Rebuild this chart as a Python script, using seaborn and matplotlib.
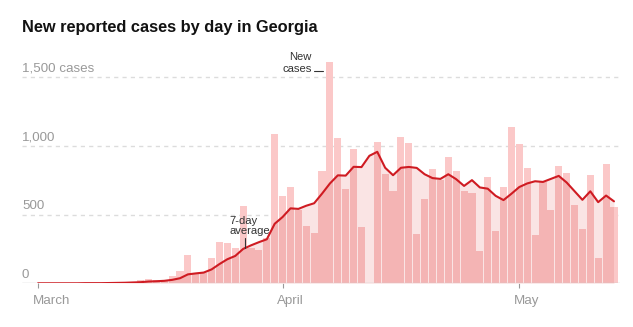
import numpy as np
import pandas as pd
import matplotlib
matplotlib.use("Agg")
import matplotlib.pyplot as plt
import seaborn as sns

# ---------------- data ----------------
dates = pd.date_range("2020-03-01", "2020-05-13", freq="D")

new_cases = [
    # March 1 - 31
    0, 2, 0, 0, 0, 0, 4, 1, 5, 5,
    5, 8, 11, 24, 33, 22, 25, 53, 92, 204,
    72, 78, 184, 300, 295, 257, 563, 255, 242, 330,
    1089,
    # April 1 - 30 (no bar shown on April 12)
    636, 701, 531, 420, 364, 820, 1609, 1053, 686, 978,
    408, None, 1026, 793, 674, 1065, 1021, 359, 611, 832,
    750, 915, 813, 674, 655, 238, 774, 381, 699, 1138,
    # May 1 - 13
    1012, 837, 354, 740, 531, 854, 803, 570, 398, 788,
    184, 868, 558,
]

avg_7day = [
    # March
    0, 0, 0, 0, 0, 0, 1, 1, 1, 2,
    3, 4, 6, 8, 13, 15, 18, 25, 37, 65,
    72, 78, 101, 140, 175, 199, 250, 276, 299, 320,
    433,
    # April
    482, 545, 541, 564, 582, 652, 726, 785, 783, 847,
    845, 927, 956, 840, 786, 840, 846, 839, 793, 765,
    759, 793, 757, 708, 750, 697, 688, 636, 605, 651,
    # May
    700, 726, 742, 737, 759, 781, 733, 670, 607, 669,
    590, 638, 596,
]

y_tick_values = [0, 500, 1000, 1500]
y_tick_labels = ["0", "500", "1,000", "1,500 cases"]
month_starts = ["2020-03-01", "2020-04-01", "2020-05-01"]
month_labels = ["March", "April", "May"]

title = "New reported cases by day in Georgia"

# ---------------- style ----------------
LIGHT = "#fbc8c8"
DARK = "#f4b4b4"
AREA = "#fae4e4"
RED = "#cf1b22"
GRID = "#dcdcdc"
LABEL = "#999999"
TEXT = "#333333"

sns.set_theme(style="white")
plt.rcParams["font.family"] = ["Liberation Sans", "DejaVu Sans"]

W, H = 633, 327
fig = plt.figure(figsize=(W / 100, H / 100), dpi=100)
base_px, top_px, left_px, right_px = 283.3, 50.0, 22.0, 620.0
ax = fig.add_axes([left_px / W, (H - base_px) / H,
                   (right_px - left_px) / W, (base_px - top_px) / H])

df = pd.DataFrame({
    "day": np.arange(len(dates)),
    "date": dates,
    "cases": pd.to_numeric(pd.Series(new_cases), errors="coerce"),
    "avg": avg_7day,
})
bars_df = df.dropna(subset=["cases"])

# dashed gridlines (behind everything)
for v in y_tick_values[1:]:
    ax.axhline(v, linestyle=(0, (3, 3)), color=GRID, linewidth=1, zorder=0.1)

# area under 7-day average
area = ax.fill_between(df["day"], 0, df["avg"], color=AREA, lw=0, zorder=1)

# bars (light, full height)
n0 = len(ax.patches)
sns.barplot(data=bars_df, x="day", y="cases", native_scale=True, color=LIGHT,
            saturation=1, width=0.9, errorbar=None, linewidth=0, ax=ax)
for p in ax.patches[n0:]:
    p.set_zorder(2)
n1 = len(ax.patches)
# bars (dark, portion under the average)
sns.barplot(data=bars_df, x="day", y="cases", native_scale=True, color=DARK,
            saturation=1, width=0.9, errorbar=None, linewidth=0, ax=ax)
clip_path = area.get_paths()[0]
for p in ax.patches[n1:]:
    p.set_zorder(3)
    p.set_clip_path(clip_path, ax.transData)

# 7-day average line
sns.lineplot(data=df, x="day", y="avg", color=RED, linewidth=1.5,
             errorbar=None, zorder=6, ax=ax)

# axes scales
px_per_day = 7.89
x0 = 38.0
ax.set_xlim((left_px - x0) / px_per_day, (right_px - x0) / px_per_day)
px_per_case = (283.3 - 77.0) / 1500
ax.set_ylim(0, (base_px - top_px) / px_per_case)

for s in ax.spines.values():
    s.set_visible(False)
ax.set_xlabel("")
ax.set_ylabel("")
ax.grid(False)
ax.tick_params(axis="y", left=False, labelleft=False)
ax.axhline(0, color="#cccccc", linewidth=1, zorder=5)

# y labels
for v, lab in zip(y_tick_values, y_tick_labels):
    ax.annotate(lab, xy=(0, v), xycoords=("axes fraction", "data"),
                xytext=(0, 4.0), textcoords="offset points",
                ha="left", va="baseline", fontsize=9.6, color=LABEL)

# x ticks
month_pos = [int((pd.Timestamp(m) - dates[0]).days) for m in month_starts]
ax.set_xticks(month_pos)
ax.tick_params(axis="x", bottom=True, length=3.6, width=0.8, color=LABEL,
               direction="out", labelbottom=False)
for pos, lab in zip(month_pos, month_labels):
    ax.annotate(lab, xy=(pos, 0), xycoords="data",
                xytext=(-3.8, -14.9), textcoords="offset points",
                ha="left", va="baseline", fontsize=9.6, color=LABEL)

# annotations
def px_x(px):
    return (px - x0) / px_per_day

def px_y(py):
    return (base_px - py) / px_per_case

ax.text(px_x(312), px_y(60), "New", ha="right", va="baseline",
        fontsize=8.1, color=TEXT)
ax.text(px_x(312), px_y(71.7), "cases", ha="right", va="baseline",
        fontsize=8.1, color=TEXT)
ax.plot([px_x(313.5), px_x(323)], [px_y(70.5), px_y(70.5)], color=TEXT,
        lw=0.8, zorder=7, clip_on=False)

ax.text(px_x(229), px_y(224), "7-day", ha="left", va="baseline",
        fontsize=8.1, color=TEXT)
ax.text(px_x(229), px_y(234.3), "average", ha="left", va="baseline",
        fontsize=8.1, color=TEXT)
ax.plot([px_x(245.3), px_x(245.3)], [px_y(238), px_y(248)], color=TEXT,
        lw=0.8, zorder=7)

fig.text(22 / W, 1 - 32.3 / H, title, ha="left", va="baseline",
         fontsize=11.8, fontweight="bold", color="#121212")

fig.savefig("out.png", dpi=100)
